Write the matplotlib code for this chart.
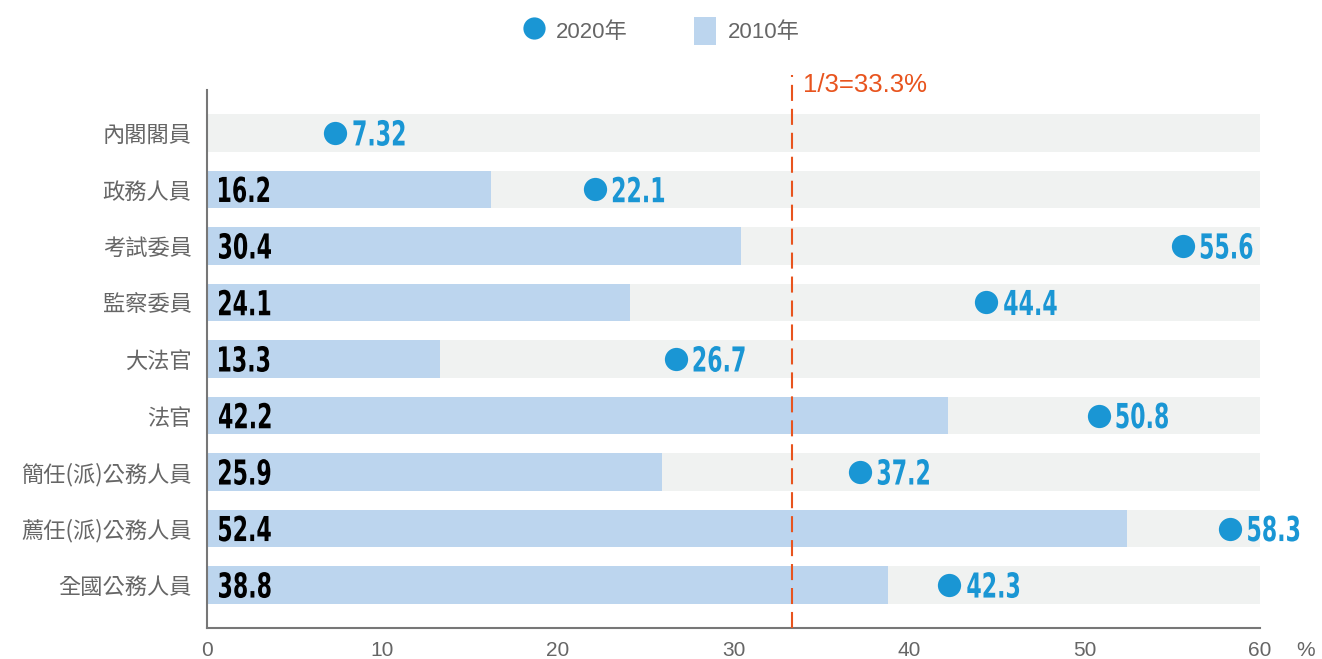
import matplotlib.pyplot as plt
from matplotlib.lines import Line2D
from matplotlib.patches import Patch, PathPatch
from matplotlib.textpath import TextPath
from matplotlib.transforms import Affine2D, ScaledTranslation
from matplotlib import font_manager

plt.rcParams['font.family'] = ['Liberation Sans', 'Noto Sans CJK TC']

categories = ['內閣閣員', '政務人員', '考試委員', '監察委員', '大法官', '法官',
              '簡任(派)公務人員', '薦任(派)公務人員', '全國公務人員']
v2010 = [None, 16.2, 30.4, 24.1, 13.3, 42.2, 25.9, 52.4, 38.8]
v2020 = [7.32, 22.1, 55.6, 44.4, 26.7, 50.8, 37.2, 58.3, 42.3]
v2020_labels = ['7.32', '22.1', '55.6', '44.4', '26.7', '50.8', '37.2', '58.3', '42.3']
xticks = [0, 10, 20, 30, 40, 50, 60]
threshold = 100 / 3

# condensed bold face for the value labels (squeezed further below)
cands = [f for f in font_manager.fontManager.ttflist
         if ('Condensed' in f.name or 'Narrow' in f.name
             or 'condensed' in str(f.stretch))]
bold = [f for f in cands if f.weight in ('bold', 700, 'heavy', 800, 900)]
pick = (bold or cands)
if pick:
    num_fp = font_manager.FontProperties(fname=pick[0].fname, size=20)
else:
    num_fp = font_manager.FontProperties(family='DejaVu Sans', weight='bold', size=20)

# target size of "30.4" in pixels -> tall narrow digits like the original
ref = TextPath((0, 0), '30.4', prop=num_fp).get_extents()
sx = 52 / ref.width
sy = 26 / ref.height

fig = plt.figure(figsize=(13.22, 6.59), dpi=100)
ax = fig.add_axes([207 / 1322, 31 / 659, 1053 / 1322, 538 / 659])


def num_label(x, yv, s, color, dx):
    p = TextPath((0, 0), s, prop=num_fp)
    e = p.get_extents()
    tr = (Affine2D().translate(-e.x0, -(e.y0 + e.y1) / 2).scale(sx, sy).translate(dx, 0)
          + ScaledTranslation(x, yv, ax.transData))
    ax.add_patch(PathPatch(p, transform=tr, facecolor=color, edgecolor='none',
                           zorder=6, clip_on=False))


y = list(range(len(categories)))
ax.barh(y, [60] * len(y), height=0.67, color='#f0f2f1', zorder=1)
for i, v in enumerate(v2010):
    if v is None:
        continue
    ax.barh(i, v, height=0.67, color='#bcd5ee', zorder=2)
    num_label(0, i, f'{v}', 'black', 12)

ax.scatter(v2020, y, s=280, color='#1a96d4', zorder=5, linewidths=0)
for i, (v, lab) in enumerate(zip(v2020, v2020_labels)):
    num_label(v, i, lab, '#1a96d4', 18)

ax.plot([threshold, threshold], [0, 1.028], transform=ax.get_xaxis_transform(),
        color='#e8541e', linestyle=(0, (7.7, 3.8)), linewidth=1.5, clip_on=False, zorder=3)
ax.text(threshold + 0.65, 1.01, '1/3=33.3%', transform=ax.get_xaxis_transform(),
        ha='left', va='center', fontsize=18.5, color='#e8541e')

ax.set_xlim(0, 60)
ax.set_ylim(8.76, -0.76)
ax.set_xticks(xticks)
ax.set_xticklabels([str(t) for t in xticks])
ax.set_yticks(y)
ax.set_yticklabels(categories, family=['Noto Sans CJK TC', 'DejaVu Sans'], fontsize=16)
ax.tick_params(axis='both', length=0, colors='#666666')
ax.tick_params(axis='x', labelsize=15, pad=9)
ax.tick_params(axis='y', pad=11)
for s in ['top', 'right']:
    ax.spines[s].set_visible(False)
for s in ['left', 'bottom']:
    ax.spines[s].set_color('#777777')
    ax.spines[s].set_linewidth(1.5)

ax.text(1.043, -0.024, '%', transform=ax.transAxes, ha='center', va='top',
        fontsize=15, color='#666666')

handles = [
    Line2D([], [], marker='o', linestyle='none', markersize=16,
           markerfacecolor='#1a96d4', markeredgewidth=0, label='2020年'),
    Patch(facecolor='#bcd5ee', label='2010年'),
]
fig.legend(handles=handles, loc='center', bbox_to_anchor=(0.5, 0.953), ncol=2,
           frameon=False, prop={'family': ['Liberation Sans', 'Noto Sans CJK TC'], 'size': 16},
           labelcolor='#666666', handlelength=1.0, handleheight=1.5,
           columnspacing=3.0, handletextpad=0.5)

fig.savefig('out.png', dpi=100)
